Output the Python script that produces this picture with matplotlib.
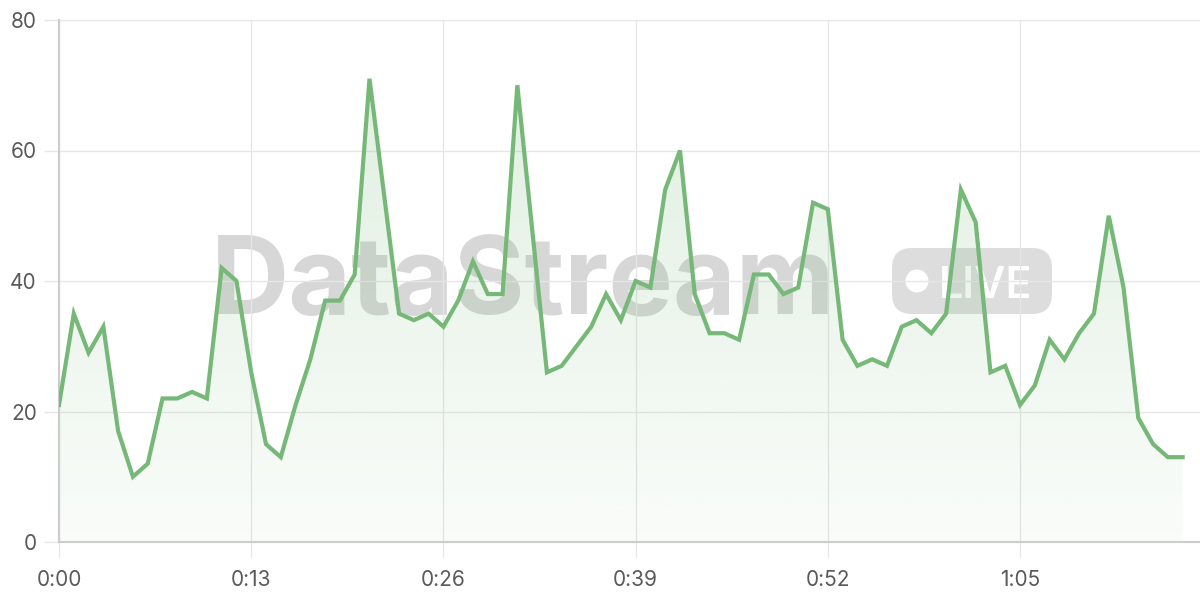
import numpy as np
import matplotlib.pyplot as plt
from matplotlib.patches import FancyBboxPatch, Circle

plt.rcParams['font.family'] = ['Inter', 'DejaVu Sans']

# one sample per second
values = [21, 35, 29, 33, 17, 10, 12, 22, 22, 23, 22, 42, 40, 26, 15, 13, 21, 28,
          37, 37, 41, 71, 53, 35, 34, 35, 33, 37, 43, 38, 38, 70, 48, 26, 27, 30,
          33, 38, 34, 40, 39, 54, 60, 38, 32, 32, 31, 41, 41, 38, 39, 52, 51, 31,
          27, 28, 27, 33, 34, 32, 35, 54, 49, 26, 27, 21, 24, 31, 28, 32, 35, 50,
          39, 19, 15, 13, 13]
seconds = np.arange(len(values))
tick_secs = [0, 13, 26, 39, 52, 65]
tick_labels = ['0:00', '0:13', '0:26', '0:39', '0:52', '1:05']

line_color = '#76b877'

fig = plt.figure(figsize=(12, 6), dpi=100)

# watermark layer in pixel coordinates, below the chart
wm = fig.add_axes([0, 0, 1, 1], zorder=0)
wm.set_xlim(0, 1200)
wm.set_ylim(600, 0)
wm.axis('off')
wm.text(211, 313, 'DataStream', fontsize=78, fontweight='bold',
        color='#bdbdbd', alpha=0.6, va='baseline', ha='left')
wm.add_patch(FancyBboxPatch((892, 248), 160, 66,
                            boxstyle='round,pad=0,rounding_size=20',
                            facecolor='#bdbdbd', alpha=0.5, edgecolor='none'))
wm.add_patch(Circle((917, 281), 11.5, facecolor='white', edgecolor='none'))
wm.text(986, 298, 'LIVE', fontsize=31, fontweight='semibold', color='white',
        va='baseline', ha='center')

ax = fig.add_axes([59 / 1200, 1 - 542 / 600, 1 - 59 / 1200, (542 - 20) / 600], zorder=1)
ax.patch.set_alpha(0)

# gradient area under the line
poly = ax.fill_between(seconds, values, 0, color='none')
grad = np.linspace(0.04, 0.22, 256).reshape(-1, 1)
rgba = np.zeros((256, 1, 4))
rgba[..., 0] = 0x76 / 255
rgba[..., 1] = 0xb8 / 255
rgba[..., 2] = 0x77 / 255
rgba[..., 3] = grad
img = ax.imshow(rgba, aspect='auto', origin='lower',
                extent=[0, seconds[-1], 0, max(values)], zorder=2)
img.set_clip_path(poly.get_paths()[0], transform=ax.transData)

ax.plot(seconds, values, color=line_color, linewidth=3, zorder=3,
        solid_joinstyle='miter')

ax.set_xlim(0, 1141 / 14.785)
ax.set_ylim(0, 80)
ax.set_yticks([0, 20, 40, 60, 80])
ax.set_xticks(tick_secs)
ax.set_xticklabels(tick_labels)

ax.grid(True, color='#e6e6e6', linewidth=1, zorder=1)
ax.set_axisbelow(True)
for side in ['top', 'right']:
    ax.spines[side].set_visible(False)
ax.spines['left'].set_color('#cccccc')
ax.spines['bottom'].set_color('#cccccc')
ax.spines['left'].set_linewidth(1.5)
ax.spines['bottom'].set_linewidth(1.5)
ax.tick_params(axis='both', colors='#e6e6e6', labelcolor='#5a5a5a', labelsize=15,
               length=11, width=1)
ax.tick_params(axis='x', pad=9)
ax.tick_params(axis='y', pad=5)

fig.savefig('out.png', dpi=100)
